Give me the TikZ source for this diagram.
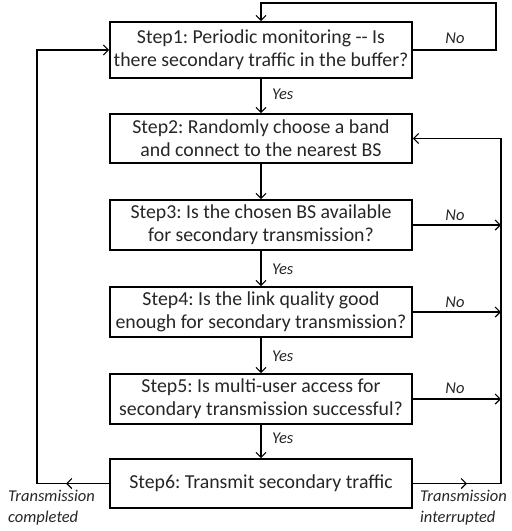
\documentclass[tikz,border=0pt]{standalone}
\usepackage{fontspec}
\setmainfont{Carlito}
\usetikzlibrary{arrows.meta}
\frenchspacing
\begin{document}
\begin{tikzpicture}[x=1pt,y=-1pt,
  stepbox/.style={draw,line width=1.6pt,minimum width=302pt,align=center,inner sep=0pt,
    text=black!85,font=\fontsize{19.8}{23}\selectfont},
  conn/.style={line width=1.1pt},
  arr/.style={conn,-{Straight Barb[length=5pt,width=10pt,line width=1.1pt]}},
  lab/.style={font=\fontsize{16.5}{17}\itshape,inner sep=0pt,text=black!85}]
\useasboundingbox (0,0) rectangle (512,531);
\node[stepbox,minimum height=56pt] (s1) at (261,50) {Step1: Periodic monitoring -{}- Is\\there secondary traffic in the buffer?};
\node[stepbox,minimum height=49pt] (s2) at (261,138.5) {Step2: Randomly choose a band\\and connect to the nearest BS};
\node[stepbox,minimum height=50pt] (s3) at (261,225) {Step3: Is the chosen BS available\\for secondary transmission?};
\node[stepbox,minimum height=50pt] (s4) at (261,312) {Step4: Is the link quality good\\enough for secondary transmission?};
\node[stepbox,minimum height=50pt] (s5) at (261,399) {Step5: Is multi-user access for\\secondary transmission successful?};
\node[stepbox,minimum height=49pt] (s6) at (261,483.5) {Step6: Transmit secondary traffic};
\coordinate (t1) at (496,3);
\coordinate (cl) at (37,483.5);
\coordinate (cml) at (66,483.5);
\coordinate (cr) at (501,483.5);
\coordinate (cmr) at (467,483.5);
% top loop
\draw[arr] (s1.east) -| (t1) -| (s1.north);
\node[lab] (no1) at (455,38) {No};
% yes arrows
\draw[arr] (s1) -- (s2);
\draw[arr] (s2) -- (s3);
\draw[arr] (s3) -- (s4);
\draw[arr] (s4) -- (s5);
\draw[arr] (s5) -- (s6);
\node[lab,anchor=west] (y1) at (272,94) {Yes};
\node[lab,anchor=west] (y3) at (272,269) {Yes};
\node[lab,anchor=west] (y4) at (272,356) {Yes};
\node[lab,anchor=west] (y5) at (272,438) {Yes};
% no arrows
\draw[arr] (s3.east) -- (s3.east -| cr);
\draw[arr] (s4.east) -- (s4.east -| cr);
\draw[arr] (s5.east) -- (s5.east -| cr);
\node[lab] (no3) at (455,215) {No};
\node[lab] (no4) at (455,302) {No};
\node[lab] (no5) at (455,388) {No};
% left loop
\draw[arr] (s6.west) -- (cl) |- (s1.west);
\draw[arr] (s6.west) -- (cml);
% right loop
\draw[arr] (s6.east) -- (cr) |- (s2.east);
\draw[arr] (s6.east) -- (cmr);
\node[lab,anchor=north west,align=left,font=\fontsize{16.5}{21}\itshape] (tc) at (8,490) {Transmission\\completed};
\node[lab,anchor=north west,align=left,font=\fontsize{16.5}{21}\itshape] (ti) at (420,490) {Transmission\\interrupted};
\end{tikzpicture}
\end{document}
